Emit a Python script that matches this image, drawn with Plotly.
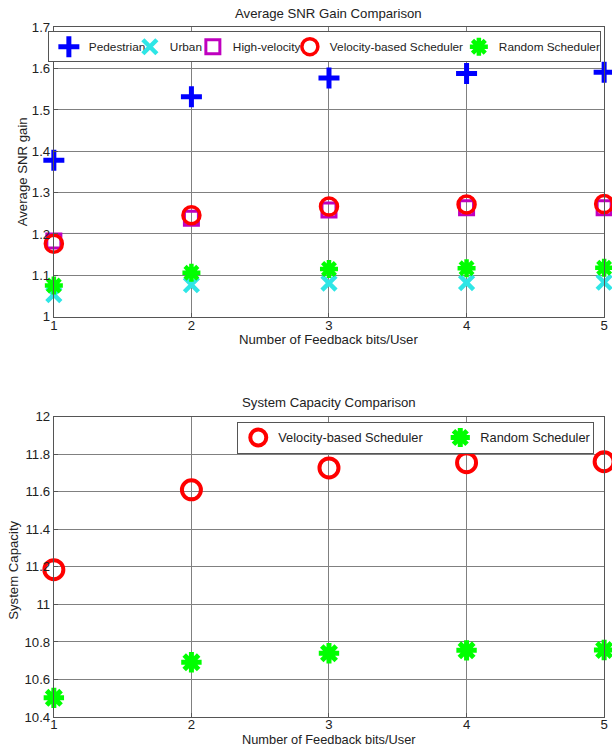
import plotly.graph_objects as go

bits = [1, 2, 3, 4, 5]

# Top chart: Average SNR gain
pedestrian = [1.378, 1.532, 1.577, 1.588, 1.591]
urban = [1.053, 1.077, 1.081, 1.082, 1.083]
high_velocity = [1.183, 1.238, 1.258, 1.263, 1.263]
velocity_snr = [1.176, 1.245, 1.266, 1.271, 1.272]
random_snr = [1.075, 1.106, 1.115, 1.117, 1.118]

# Bottom chart: System capacity
velocity_cap = [11.185, 11.61, 11.727, 11.755, 11.760]
random_cap = [10.502, 10.692, 10.740, 10.755, 10.757]

snr_ticks = [1, 1.1, 1.2, 1.3, 1.4, 1.5, 1.6, 1.7]
snr_ticktext = ["1", "1.1", "1.2", "1.3", "1.4", "1.5", "1.6", "1.7"]
cap_ticks = [10.4, 10.6, 10.8, 11, 11.2, 11.4, 11.6, 11.8, 12]
cap_ticktext = ["10.4", "10.6", "10.8", "11", "11.2", "11.4", "11.6", "11.8", "12"]

W, H = 612, 754
FONT = "Liberation Sans, Arial, sans-serif"

# layout helpers: pixel positions on the photographed page -> figure pixels
def fx(X):
    return (X - 2) / 0.99

def fy(Y):
    return (Y - 7.8) / 0.979

def px(X):
    return fx(X) / W

def py(Y):
    return 1 - fy(Y) / H

fig = go.Figure()

def add(x, y, name, color, symbol, size, lw, xa, ya, legend, lwidth=None):
    fig.add_trace(go.Scatter(
        x=x, y=y, name=name, mode="markers", xaxis=xa, yaxis=ya,
        legend=legend, cliponaxis=False, legendwidth=lwidth,
        marker=dict(symbol=symbol, size=size, color=color,
                    line=dict(color=color, width=lw)),
    ))

add(bits, pedestrian, "Pedestrian", "#0000ff", "cross-thin-open", 15, 5, "x", "y", "legend", 36)
add(bits, urban, "Urban", "#2ee6e6", "x-thin-open", 14, 4.5, "x", "y", "legend", 18)
add(bits, high_velocity, "High-velocity", "#bf00bf", "square-open", 14, 3, "x", "y", "legend", 52)
add(bits, velocity_snr, "Velocity-based Scheduler", "#ff0000", "circle-open", 17, 3.5, "x", "y", "legend", 124)
add(bits, random_snr, "Random Scheduler", "#00ff00", "asterisk-open", 15, 4.5, "x", "y", "legend", 96)

add(bits, velocity_cap, "Velocity-based Scheduler", "#ff0000", "circle-open", 19, 4, "x2", "y2", "legend2", 157)
add(bits, random_cap, "Random Scheduler", "#00ff00", "asterisk-open", 17, 5, "x2", "y2", "legend2", 108)

xdom = [px(52), px(604)]
top_dom = [py(317), py(28)]
bot_dom = [py(717), py(417)]

TF = 13.2
axis_common = dict(
    showgrid=True, gridcolor="#808080", gridwidth=1,
    showline=True, linecolor="#555555", linewidth=1, mirror=True,
    ticks="inside", ticklen=4, tickcolor="#555555",
    zeroline=False, tickfont=dict(size=TF, color="#222222"),
)

fig.update_layout(
    width=W, height=H, margin=dict(l=0, r=0, t=0, b=0),
    paper_bgcolor="white", plot_bgcolor="white",
    font=dict(family=FONT, size=TF, color="#222222"),
    showlegend=True,
    xaxis=dict(domain=xdom, range=[1, 5], tickvals=bits, anchor="y",
               ticklabelstandoff=-3, ticklabeloverflow="allow", **axis_common),
    yaxis=dict(domain=top_dom, range=[1, 1.7], tickvals=snr_ticks, ticktext=snr_ticktext,
               anchor="x", **axis_common),
    xaxis2=dict(domain=xdom, range=[1, 5], tickvals=bits, anchor="y2",
                ticklabelstandoff=-5, ticklabeloverflow="allow", **axis_common),
    yaxis2=dict(domain=bot_dom, range=[10.4, 12], tickvals=cap_ticks, ticktext=cap_ticktext,
                anchor="x2", **axis_common),
    legend=dict(orientation="h", x=px(46), xanchor="left", y=py(32), yanchor="top",
                bgcolor="white", bordercolor="#555555", borderwidth=1,
                font=dict(size=11.8), itemwidth=30, tracegroupgap=0),
    legend2=dict(orientation="h", x=px(236), xanchor="left", y=py(422), yanchor="top",
                 bgcolor="white", bordercolor="#555555", borderwidth=1,
                 font=dict(size=12.8), itemwidth=30),
    annotations=[
        dict(text="Average SNR Gain Comparison", x=(xdom[0] + xdom[1]) / 2, y=py(14),
             xref="paper", yref="paper", showarrow=False, font=dict(size=TF),
             xanchor="center", yanchor="middle"),
        dict(text="System Capacity Comparison", x=(xdom[0] + xdom[1]) / 2, y=py(403),
             xref="paper", yref="paper", showarrow=False, font=dict(size=TF),
             xanchor="center", yanchor="middle"),
        dict(text="Number of Feedback bits/User", x=(xdom[0] + xdom[1]) / 2, y=py(340),
             xref="paper", yref="paper", showarrow=False, font=dict(size=TF),
             xanchor="center", yanchor="middle"),
        dict(text="Number of Feedback bits/User", x=(xdom[0] + xdom[1]) / 2, y=0,
             xref="paper", yref="paper", showarrow=False, font=dict(size=12.8),
             xanchor="center", yanchor="bottom", yshift=-3),
        dict(text="Average SNR gain", x=px(20), y=py(172), textangle=-90,
             xref="paper", yref="paper", showarrow=False, font=dict(size=TF),
             xanchor="center", yanchor="middle"),
        dict(text="System Capacity", x=px(12), y=py(570), textangle=-90,
             xref="paper", yref="paper", showarrow=False, font=dict(size=TF),
             xanchor="center", yanchor="middle"),
    ],
)

fig.write_html(
    "out.html",
    config={"displayModeBar": False},
    post_script="document.body.style.margin='0';",
)
